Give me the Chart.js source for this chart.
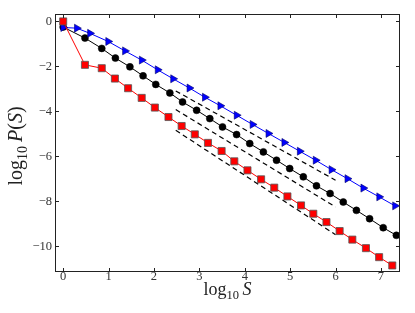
<!DOCTYPE html>
<html><head><meta charset="utf-8">
<script src="https://cdn.jsdelivr.net/npm/chart.js@4"></script>
<style>html,body{margin:0;padding:0;background:#fff;}</style>
</head><body>
<canvas id="c" width="415" height="313"></canvas>
<script>
// ---- data ----
const xTicks = [0, 1, 2, 3, 4, 5, 6, 7];
const yTicks = [-10, -8, -6, -4, -2, 0];

const blueX = [0, 0.30, 0.59, 0.99, 1.36, 1.73, 2.08, 2.42, 2.78, 3.12, 3.46, 3.82, 4.17, 4.52, 4.87, 5.21, 5.56, 5.91, 6.26, 6.61, 6.96, 7.31];
const blueY = [-0.27, -0.30, -0.53, -0.89, -1.31, -1.72, -2.15, -2.55, -2.96, -3.37, -3.75, -4.17, -4.58, -4.98, -5.38, -5.77, -6.17, -6.59, -6.99, -7.41, -7.80, -8.20];

const blackX = [0, 0.48, 0.85, 1.15, 1.47, 1.76, 2.04, 2.35, 2.63, 2.94, 3.23, 3.51, 3.82, 4.11, 4.41, 4.70, 4.99, 5.29, 5.58, 5.88, 6.17, 6.46, 6.75, 7.05, 7.34];
const blackY = [-0.25, -0.74, -1.20, -1.63, -2.02, -2.42, -2.80, -3.18, -3.58, -3.95, -4.32, -4.69, -5.03, -5.43, -5.80, -6.17, -6.54, -6.91, -7.31, -7.65, -8.03, -8.40, -8.77, -9.17, -9.51];

const redX = [0, 0.48, 0.85, 1.14, 1.43, 1.73, 2.02, 2.32, 2.61, 2.90, 3.19, 3.49, 3.77, 4.06, 4.36, 4.65, 4.94, 5.24, 5.51, 5.80, 6.09, 6.37, 6.67, 6.96, 7.25];
const redY = [0, -1.93, -2.08, -2.54, -2.97, -3.40, -3.83, -4.25, -4.65, -5.02, -5.40, -5.76, -6.22, -6.62, -7.02, -7.39, -7.78, -8.18, -8.55, -8.92, -9.32, -9.70, -10.08, -10.48, -10.85];

// dashed guide lines: [x0, x1] and [y0, y1]
const fitX = [2.48, 6.0];
const fitBlueY = [-3.09, -7.06];
const fitBlackY = [-3.92, -8.25];
const fitRedY = [-4.84, -9.48];

const pts = (xs, ys) => xs.map((x, i) => ({x, y: ys[i]}));
const minus = v => (v < 0 ? '\u2212' + Math.abs(v) : String(v));

const FONT = '"Liberation Serif", "DejaVu Serif", serif';

const framePlugin = {
  id: 'frame',
  afterDatasetsDraw(chart) {
    const {ctx, chartArea: a, scales} = chart;
    ctx.save();
    ctx.strokeStyle = '#222';
    ctx.lineWidth = 1;
    ctx.strokeRect(a.left + 0.5, a.top + 0.5, a.right - a.left - 1, a.bottom - a.top - 1);
    const L = 4;
    ctx.beginPath();
    xTicks.forEach(v => {
      const px = Math.round(scales.x.getPixelForValue(v)) + 0.5;
      ctx.moveTo(px, a.bottom); ctx.lineTo(px, a.bottom - L);
      ctx.moveTo(px, a.top); ctx.lineTo(px, a.top + L);
    });
    yTicks.forEach(v => {
      const py = Math.round(scales.y.getPixelForValue(v)) + 0.5;
      ctx.moveTo(a.left, py); ctx.lineTo(a.left + L, py);
      ctx.moveTo(a.right, py); ctx.lineTo(a.right - L, py);
    });
    ctx.stroke();
    ctx.restore();
  },
  afterDraw(chart) {
    const {ctx, chartArea: a} = chart;
    function drawLabel(parts, cx, baseline) {
      // parts: [text, size, italic, dy]
      let total = 0;
      parts.forEach(p => {
        ctx.font = (p[2] ? 'italic ' : '') + p[1] + 'px ' + FONT;
        p.w = ctx.measureText(p[0]).width;
        total += p.w;
      });
      let x = cx - total / 2;
      parts.forEach(p => {
        ctx.font = (p[2] ? 'italic ' : '') + p[1] + 'px ' + FONT;
        ctx.fillText(p[0], x, baseline + p[3]);
        x += p.w;
      });
    }
    ctx.save();
    ctx.fillStyle = '#222';
    ctx.textBaseline = 'alphabetic';
    ctx.textAlign = 'left';
    drawLabel([['log', 18, false, 0], ['10', 12.5, false, 4], ['\u2009', 18, false, 0], ['S', 18, true, 0]],
      (a.left + a.right) / 2, 295);
    ctx.translate(22, (a.top + a.bottom) / 2 + 3);
    ctx.rotate(-Math.PI / 2);
    drawLabel([['log', 20, false, 0], ['10', 14, false, 4.5], ['\u2009', 20, false, 0], ['P', 20, true, 0], ['(', 20, false, 0], ['S', 20, true, 0], [')', 20, false, 0]],
      0, 0);
    ctx.restore();
  }
};

const dashed = ys => ({
  data: pts(fitX, ys), borderColor: '#000', borderWidth: 1.2, borderDash: [5, 3.5],
  pointRadius: 0, fill: false, tension: 0, order: 5
});

new Chart(document.getElementById('c'), {
  type: 'line',
  data: {
    datasets: [
      { data: pts(blueX, blueY), borderColor: '#0000ff', borderWidth: 1, pointStyle: 'triangle', pointRotation: 90,
        pointRadius: 4.6, pointBackgroundColor: '#0000ff', pointBorderColor: '#000066', pointBorderWidth: 0.6, order: 1 },
      { data: pts(blackX, blackY), borderColor: '#000', borderWidth: 1, pointStyle: 'circle',
        pointRadius: 3.5, pointBackgroundColor: '#000', pointBorderColor: '#000', pointBorderWidth: 0.5, order: 2 },
      { data: pts(redX, redY), borderColor: '#ff0000', borderWidth: 1, pointStyle: 'rect',
        pointRadius: 5, pointBackgroundColor: '#ff0000', pointBorderColor: '#555', pointBorderWidth: 0.8, order: 0 },
      dashed(fitBlueY), dashed(fitBlackY), dashed(fitRedY)
    ]
  },
  options: {
    responsive: false, animation: false, devicePixelRatio: 1,
    layout: { padding: { top: 14, right: 15, left: 0, bottom: 0 } },
    plugins: { legend: { display: false }, tooltip: { enabled: false } },
    elements: { line: { tension: 0 } },
    scales: {
      x: {
        type: 'linear', min: -0.18, max: 7.42,
        afterBuildTicks: s => { s.ticks = xTicks.map(v => ({value: v})); },
        afterFit: s => { s.height = 41; },
        grid: { display: false, drawTicks: false }, border: { display: false },
        ticks: { color: '#333', padding: -3, font: { family: FONT, size: 12.5 }, callback: v => minus(v), maxRotation: 0 }
      },
      y: {
        type: 'linear', min: -11.14, max: 0.33,
        afterBuildTicks: s => { s.ticks = yTicks.map(v => ({value: v})); },
        afterFit: s => { s.width = 55; },
        grid: { display: false, drawTicks: false }, border: { display: false },
        ticks: { color: '#333', padding: 3, font: { family: FONT, size: 12.5 }, callback: v => minus(v) }
      }
    }
  },
  plugins: [framePlugin]
});
</script>
</body></html>
